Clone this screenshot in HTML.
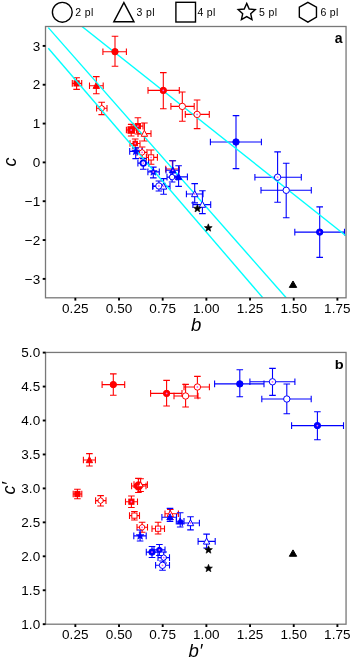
<!DOCTYPE html>
<html><head><meta charset="utf-8"><style>
html,body{margin:0;padding:0;width:350px;height:658px;overflow:hidden;background:#fff;}
svg{will-change:transform;}
</style></head><body>
<svg width="350" height="658" viewBox="0 0 350 658" style="position:absolute;left:0;top:0">
<rect width="350" height="658" fill="#ffffff"/>
<g fill="none" stroke="#000" stroke-width="1.4">
<circle cx="62.3" cy="12.3" r="9.9"/>
<path d="M123.9,2.6 L134,21.8 L113.8,21.8 Z" stroke-linejoin="miter"/>
<rect x="175.9" y="2.3" width="19.6" height="19.7"/>
<path d="M246.70,3.40 L249.17,9.00 L255.26,9.62 L250.69,13.70 L251.99,19.68 L246.70,16.60 L241.41,19.68 L242.71,13.70 L238.14,9.62 L244.23,9.00 Z" stroke-linejoin="miter"/>
<path d="M307.90,2.30 L316.47,7.25 L316.47,17.15 L307.90,22.10 L299.33,17.15 L299.33,7.25 Z"/>
</g>
<g font-family='"Liberation Sans", sans-serif' font-size="10.5" fill="#000" letter-spacing="0.35">
<text x="75.3" y="15.7">2 pl</text>
<text x="136.6" y="15.7">3 pl</text>
<text x="197.4" y="15.7">4 pl</text>
<text x="259.0" y="15.7">5 pl</text>
<text x="320.4" y="15.7">6 pl</text>
</g>
<clipPath id="clipa"><rect x="45.5" y="26.5" width="300.55" height="271.3"/></clipPath>
<g clip-path="url(#clipa)">
<path d="M133,126.1 H143 M133,122.8 V129.4 M143,122.8 V129.4" stroke="#ff0000" stroke-width="1.1" fill="none"/>
<path d="M137.9,117.8 V134 M134.6,117.8 H141.2 M134.6,134 H141.2" stroke="#ff0000" stroke-width="1.1" fill="none"/>
<path d="M126.4,130 H136.5 M126.4,126.7 V133.3 M136.5,126.7 V133.3" stroke="#ff0000" stroke-width="1.1" fill="none"/>
<path d="M131.2,124.4 V136 M127.9,124.4 H134.5 M127.9,136 H134.5" stroke="#ff0000" stroke-width="1.1" fill="none"/>
<path d="M138,133.6 H151 M138,130.3 V136.9 M151,130.3 V136.9" stroke="#ff0000" stroke-width="1.1" fill="none"/>
<path d="M144.4,123 V141 M141.1,123 H147.7 M141.1,141 H147.7" stroke="#ff0000" stroke-width="1.1" fill="none"/>
<path d="M130,143.5 H140 M130,140.2 V146.8 M140,140.2 V146.8" stroke="#ff0000" stroke-width="1.1" fill="none"/>
<path d="M135.2,139 V148 M131.9,139 H138.5 M131.9,148 H138.5" stroke="#ff0000" stroke-width="1.1" fill="none"/>
<path d="M137,152.4 H147 M137,149.1 V155.7 M147,149.1 V155.7" stroke="#ff0000" stroke-width="1.1" fill="none"/>
<path d="M142.1,147 V158 M138.8,147 H145.4 M138.8,158 H145.4" stroke="#ff0000" stroke-width="1.1" fill="none"/>
<path d="M146.4,157.4 H157.4 M146.4,154.1 V160.7 M157.4,154.1 V160.7" stroke="#ff0000" stroke-width="1.1" fill="none"/>
<path d="M151.1,150 V164.3 M147.8,150 H154.4 M147.8,164.3 H154.4" stroke="#ff0000" stroke-width="1.1" fill="none"/>
<path d="M165.7,169 H179.2 M165.7,165.7 V172.3 M179.2,165.7 V172.3" stroke="#ff0000" stroke-width="1.1" fill="none"/>
<path d="M172.4,160.8 V178 M169.1,160.8 H175.7 M169.1,178 H175.7" stroke="#ff0000" stroke-width="1.1" fill="none"/>
<path d="M166,170.3 H179 M166,167 V173.6 M179,167 V173.6" stroke="#0000ff" stroke-width="1.1" fill="none"/>
<path d="M172.8,160.8 V176 M169.5,160.8 H176.1 M169.5,176 H176.1" stroke="#0000ff" stroke-width="1.1" fill="none"/>
<path d="M129.7,151.4 H142.1 M129.7,148.1 V154.7 M142.1,148.1 V154.7" stroke="#0000ff" stroke-width="1.1" fill="none"/>
<path d="M135.7,147.9 V158.6 M132.4,147.9 H139 M132.4,158.6 H139" stroke="#0000ff" stroke-width="1.1" fill="none"/>
<path d="M137.9,163.1 H148.6 M137.9,159.8 V166.4 M148.6,159.8 V166.4" stroke="#0000ff" stroke-width="1.1" fill="none"/>
<path d="M143.3,158.6 V169.3 M140,158.6 H146.6 M140,169.3 H146.6" stroke="#0000ff" stroke-width="1.1" fill="none"/>
<path d="M147.9,171.9 H159.3 M147.9,168.6 V175.2 M159.3,168.6 V175.2" stroke="#0000ff" stroke-width="1.1" fill="none"/>
<path d="M153.3,167.1 V177.9 M150,167.1 H156.6 M150,177.9 H156.6" stroke="#0000ff" stroke-width="1.1" fill="none"/>
<path d="M167,177.1 H177 M167,173.8 V180.4 M177,173.8 V180.4" stroke="#0000ff" stroke-width="1.1" fill="none"/>
<path d="M172.1,172 V182 M168.8,172 H175.4 M168.8,182 H175.4" stroke="#0000ff" stroke-width="1.1" fill="none"/>
<path d="M170.7,176.9 H187.4 M170.7,173.6 V180.2 M187.4,173.6 V180.2" stroke="#0000ff" stroke-width="1.1" fill="none"/>
<path d="M178.6,165.7 V186.4 M175.3,165.7 H181.9 M175.3,186.4 H181.9" stroke="#0000ff" stroke-width="1.1" fill="none"/>
<path d="M153,186 H165 M153,182.7 V189.3 M165,182.7 V189.3" stroke="#0000ff" stroke-width="1.1" fill="none"/>
<path d="M158.9,181 V191 M155.6,181 H162.2 M155.6,191 H162.2" stroke="#0000ff" stroke-width="1.1" fill="none"/>
<path d="M152.6,186.4 H170 M152.6,183.1 V189.7 M170,183.1 V189.7" stroke="#0000ff" stroke-width="1.1" fill="none"/>
<path d="M163.6,178.6 V194.3 M160.3,178.6 H166.9 M160.3,194.3 H166.9" stroke="#0000ff" stroke-width="1.1" fill="none"/>
<path d="M186.4,194 H203 M186.4,190.7 V197.3 M203,190.7 V197.3" stroke="#0000ff" stroke-width="1.1" fill="none"/>
<path d="M194.7,183.6 V202.9 M191.4,183.6 H198 M191.4,202.9 H198" stroke="#0000ff" stroke-width="1.1" fill="none"/>
<path d="M192.9,204.6 H210.7 M192.9,201.3 V207.9 M210.7,201.3 V207.9" stroke="#0000ff" stroke-width="1.1" fill="none"/>
<path d="M202.4,190.7 V213.6 M199.1,190.7 H205.7 M199.1,213.6 H205.7" stroke="#0000ff" stroke-width="1.1" fill="none"/>
<path d="M72.3,83.4 H81.7 M72.3,80.1 V86.7 M81.7,80.1 V86.7" stroke="#ff0000" stroke-width="1.1" fill="none"/>
<path d="M76.6,77.7 V89.4 M73.3,77.7 H79.9 M73.3,89.4 H79.9" stroke="#ff0000" stroke-width="1.1" fill="none"/>
<path d="M89.5,85.7 H103.2 M89.5,82.4 V89 M103.2,82.4 V89" stroke="#ff0000" stroke-width="1.1" fill="none"/>
<path d="M96.3,76.6 V93.8 M93,76.6 H99.6 M93,93.8 H99.6" stroke="#ff0000" stroke-width="1.1" fill="none"/>
<path d="M96.6,108.3 H107 M96.6,105 V111.6 M107,105 V111.6" stroke="#ff0000" stroke-width="1.1" fill="none"/>
<path d="M101.7,102.3 V114.6 M98.4,102.3 H105 M98.4,114.6 H105" stroke="#ff0000" stroke-width="1.1" fill="none"/>
<path d="M102.9,51.7 H126.4 M102.9,48.4 V55 M126.4,48.4 V55" stroke="#ff0000" stroke-width="1.1" fill="none"/>
<path d="M115,36.3 V66.3 M111.7,36.3 H118.3 M111.7,66.3 H118.3" stroke="#ff0000" stroke-width="1.1" fill="none"/>
<path d="M148,90.4 H179.3 M148,87.1 V93.7 M179.3,87.1 V93.7" stroke="#ff0000" stroke-width="1.1" fill="none"/>
<path d="M163.3,72.6 V108.7 M160,72.6 H166.6 M160,108.7 H166.6" stroke="#ff0000" stroke-width="1.1" fill="none"/>
<path d="M170.9,106.4 H194.2 M170.9,103.1 V109.7 M194.2,103.1 V109.7" stroke="#ff0000" stroke-width="1.1" fill="none"/>
<path d="M182.3,92 V121.3 M179,92 H185.6 M179,121.3 H185.6" stroke="#ff0000" stroke-width="1.1" fill="none"/>
<path d="M185.3,114.4 H209.3 M185.3,111.1 V117.7 M209.3,111.1 V117.7" stroke="#ff0000" stroke-width="1.1" fill="none"/>
<path d="M197.1,100 V128.6 M193.8,100 H200.4 M193.8,128.6 H200.4" stroke="#ff0000" stroke-width="1.1" fill="none"/>
<path d="M210.4,142 H261.4 M210.4,138.7 V145.3 M261.4,138.7 V145.3" stroke="#0000ff" stroke-width="1.1" fill="none"/>
<path d="M236,115.6 V168.6 M232.7,115.6 H239.3 M232.7,168.6 H239.3" stroke="#0000ff" stroke-width="1.1" fill="none"/>
<path d="M254.9,177.2 H301.3 M254.9,173.9 V180.5 M301.3,173.9 V180.5" stroke="#0000ff" stroke-width="1.1" fill="none"/>
<path d="M277.6,151.9 V202.2 M274.3,151.9 H280.9 M274.3,202.2 H280.9" stroke="#0000ff" stroke-width="1.1" fill="none"/>
<path d="M261,190.3 H311.3 M261,187 V193.6 M311.3,187 V193.6" stroke="#0000ff" stroke-width="1.1" fill="none"/>
<path d="M286.2,163.3 V217.7 M282.9,163.3 H289.5 M282.9,217.7 H289.5" stroke="#0000ff" stroke-width="1.1" fill="none"/>
<path d="M294.8,232.1 H344.5 M294.8,228.8 V235.4 M344.5,228.8 V235.4" stroke="#0000ff" stroke-width="1.1" fill="none"/>
<path d="M319.7,206.9 V257.4 M316.4,206.9 H323 M316.4,257.4 H323" stroke="#0000ff" stroke-width="1.1" fill="none"/>
<rect x="135.30" y="123.50" width="5.20" height="5.20" fill="#ff0000" stroke="#ff0000" stroke-width="1.0"/>
<circle cx="137.9" cy="126.1" r="0.9" fill="#ee66ee"/>
<rect x="127.95" y="126.75" width="6.50" height="6.50" fill="#ff0000" stroke="#ff0000" stroke-width="1.0"/>
<circle cx="131.2" cy="130.0" r="0.9" fill="#ee66ee"/>
<rect x="132.99" y="141.29" width="4.42" height="4.42" fill="#ff0000" stroke="#ff0000" stroke-width="1.0"/>
<circle cx="135.2" cy="143.5" r="0.9" fill="#ee66ee"/>
<path d="M142.10,149.50 L144.61,150.95 L144.61,153.85 L142.10,155.30 L139.59,153.85 L139.59,150.95 Z" fill="#ffffff" stroke="#ff0000" stroke-width="1.0"/>
<circle cx="142.1" cy="152.4" r="0.9" fill="#ee66ee"/>
<rect x="74.00" y="80.80" width="5.20" height="5.20" fill="#ff0000" stroke="#ff0000" stroke-width="1.0"/>
<path d="M96.30,82.40 L99.50,88.40 L93.10,88.40 Z" fill="#ff0000" stroke="#ff0000" stroke-width="1.0" stroke-linejoin="miter"/>
<path d="M101.70,105.40 L104.21,106.85 L104.21,109.75 L101.70,111.20 L99.19,109.75 L99.19,106.85 Z" fill="#ffffff" stroke="#ff0000" stroke-width="1.0"/>
<line x1="48.3" y1="27.6" x2="286.4" y2="298.0" stroke="#00ffff" stroke-width="1.4"/>
<line x1="48.3" y1="48.2" x2="263.0" y2="298.0" stroke="#00ffff" stroke-width="1.4"/>
<line x1="82.0" y1="26.5" x2="345.6" y2="235.5" stroke="#00ffff" stroke-width="1.4"/>
<path d="M144.40,130.30 L147.60,136.30 L141.20,136.30 Z" fill="#ffffff" stroke="#ff0000" stroke-width="1.0" stroke-linejoin="miter"/>
<rect x="148.50" y="154.80" width="5.20" height="5.20" fill="#ffffff" stroke="#ff0000" stroke-width="1.0"/>
<circle cx="151.1" cy="157.4" r="0.9" fill="#ee66ee"/>
<path d="M172.80,167.00 L176.00,173.00 L169.60,173.00 Z" fill="#0000ff" stroke="#0000ff" stroke-width="1.0" stroke-linejoin="miter"/>
<circle cx="172.8" cy="170.3" r="0.9" fill="#ee66ee"/>
<path d="M135.70,147.30 L136.73,149.98 L139.60,150.13 L137.36,151.94 L138.11,154.72 L135.70,153.15 L133.29,154.72 L134.04,151.94 L131.80,150.13 L134.67,149.98 Z" fill="#0000ff" stroke="#0000ff" stroke-width="0.6"/>
<circle cx="143.3" cy="163.1" r="2.8" fill="#ffffff" stroke="#0000ff" stroke-width="1.8"/>
<circle cx="143.3" cy="163.1" r="0.9" fill="#ee66ee"/>
<path d="M153.30,167.80 L154.33,170.48 L157.20,170.63 L154.96,172.44 L155.71,175.22 L153.30,173.65 L150.89,175.22 L151.64,172.44 L149.40,170.63 L152.27,170.48 Z" fill="#0000ff" stroke="#0000ff" stroke-width="0.6"/>
<circle cx="153.3" cy="171.9" r="0.9" fill="#ee66ee"/>
<path d="M172.10,174.20 L174.61,175.65 L174.61,178.55 L172.10,180.00 L169.59,178.55 L169.59,175.65 Z" fill="#ffffff" stroke="#0000ff" stroke-width="1.0"/>
<path d="M178.60,173.60 L181.80,179.60 L175.40,179.60 Z" fill="#0000ff" stroke="#0000ff" stroke-width="1.0" stroke-linejoin="miter"/>
<circle cx="158.9" cy="186.0" r="3.20" fill="#ffffff" stroke="#0000ff" stroke-width="1.0"/>
<circle cx="158.9" cy="186.0" r="0.9" fill="#ee66ee"/>
<path d="M163.60,183.10 L166.80,189.10 L160.40,189.10 Z" fill="#ffffff" stroke="#0000ff" stroke-width="1.0" stroke-linejoin="miter"/>
<circle cx="163.6" cy="186.4" r="0.9" fill="#ee66ee"/>
<path d="M194.70,190.70 L197.90,196.70 L191.50,196.70 Z" fill="#ffffff" stroke="#0000ff" stroke-width="1.0" stroke-linejoin="miter"/>
<circle cx="194.7" cy="194.0" r="0.9" fill="#ee66ee"/>
<path d="M202.40,201.30 L205.60,207.30 L199.20,207.30 Z" fill="#ffffff" stroke="#0000ff" stroke-width="1.0" stroke-linejoin="miter"/>
<circle cx="115.0" cy="51.7" r="3.20" fill="#ff0000" stroke="#ff0000" stroke-width="1.0"/>
<circle cx="163.3" cy="90.4" r="3.20" fill="#ff0000" stroke="#ff0000" stroke-width="1.0"/>
<circle cx="163.3" cy="90.4" r="0.9" fill="#ee66ee"/>
<circle cx="182.3" cy="106.4" r="3.20" fill="#ffffff" stroke="#ff0000" stroke-width="1.0"/>
<circle cx="197.1" cy="114.4" r="3.20" fill="#ffffff" stroke="#ff0000" stroke-width="1.0"/>
<circle cx="197.1" cy="114.4" r="0.9" fill="#ee66ee"/>
<circle cx="236.0" cy="142.0" r="3.20" fill="#0000ff" stroke="#0000ff" stroke-width="1.0"/>
<circle cx="277.6" cy="177.2" r="3.20" fill="#ffffff" stroke="#0000ff" stroke-width="1.0"/>
<circle cx="277.6" cy="177.2" r="0.9" fill="#ee66ee"/>
<circle cx="286.2" cy="190.3" r="3.20" fill="#ffffff" stroke="#0000ff" stroke-width="1.0"/>
<circle cx="319.7" cy="232.1" r="3.20" fill="#0000ff" stroke="#0000ff" stroke-width="1.0"/>
<circle cx="319.7" cy="232.1" r="0.9" fill="#ee66ee"/>
<path d="M293.00,280.98 L296.70,287.38 L289.30,287.38 Z" fill="#000000" stroke="#000000" stroke-width="1.0" stroke-linejoin="miter"/>
<path d="M208.30,223.80 L209.33,226.48 L212.20,226.63 L209.96,228.44 L210.71,231.22 L208.30,229.65 L205.89,231.22 L206.64,228.44 L204.40,226.63 L207.27,226.48 Z" fill="#000000" stroke="#000000" stroke-width="0.6"/>
<path d="M197.40,204.50 L198.43,207.18 L201.30,207.33 L199.06,209.14 L199.81,211.92 L197.40,210.35 L194.99,211.92 L195.74,209.14 L193.50,207.33 L196.37,207.18 Z" fill="#000000" stroke="#000000" stroke-width="0.6"/>
</g>
<rect x="45.5" y="26.5" width="300.55" height="271.30" fill="none" stroke="#787878" stroke-width="1.3"/>
<g stroke="#000" stroke-width="1.9">
<line x1="75.35" y1="297.8" x2="75.35" y2="300.6"/>
<line x1="119.02" y1="297.8" x2="119.02" y2="300.6"/>
<line x1="162.70" y1="297.8" x2="162.70" y2="300.6"/>
<line x1="206.37" y1="297.8" x2="206.37" y2="300.6"/>
<line x1="250.05" y1="297.8" x2="250.05" y2="300.6"/>
<line x1="293.73" y1="297.8" x2="293.73" y2="300.6"/>
<line x1="337.40" y1="297.8" x2="337.40" y2="300.6"/>
<line x1="42.7" y1="45.90" x2="45.5" y2="45.90"/>
<line x1="42.7" y1="84.73" x2="45.5" y2="84.73"/>
<line x1="42.7" y1="123.56" x2="45.5" y2="123.56"/>
<line x1="42.7" y1="162.39" x2="45.5" y2="162.39"/>
<line x1="42.7" y1="201.22" x2="45.5" y2="201.22"/>
<line x1="42.7" y1="240.05" x2="45.5" y2="240.05"/>
<line x1="42.7" y1="278.88" x2="45.5" y2="278.88"/>
</g>
<g font-family='"Liberation Sans", sans-serif' font-size="13.5" fill="#000">
<text x="75.35" y="312.60" text-anchor="middle" letter-spacing="0.1">0.25</text>
<text x="119.02" y="312.60" text-anchor="middle" letter-spacing="0.1">0.50</text>
<text x="162.70" y="312.60" text-anchor="middle" letter-spacing="0.1">0.75</text>
<text x="206.37" y="312.60" text-anchor="middle" letter-spacing="0.1">1.00</text>
<text x="250.05" y="312.60" text-anchor="middle" letter-spacing="0.1">1.25</text>
<text x="293.73" y="312.60" text-anchor="middle" letter-spacing="0.1">1.50</text>
<text x="337.40" y="312.60" text-anchor="middle" letter-spacing="0.1">1.75</text>
<text x="40.3" y="50.60" text-anchor="end" letter-spacing="0.1">3</text>
<text x="40.3" y="89.43" text-anchor="end" letter-spacing="0.1">2</text>
<text x="40.3" y="128.26" text-anchor="end" letter-spacing="0.1">1</text>
<text x="40.3" y="167.09" text-anchor="end" letter-spacing="0.1">0</text>
<text x="40.3" y="205.92" text-anchor="end" letter-spacing="0.1">−1</text>
<text x="40.3" y="244.75" text-anchor="end" letter-spacing="0.1">−2</text>
<text x="40.3" y="283.58" text-anchor="end" letter-spacing="0.1">−3</text>
</g>
<clipPath id="clipb"><rect x="45.55" y="352.45" width="300.5" height="271.75000000000006"/></clipPath>
<g clip-path="url(#clipb)">
<path d="M131.6,486 H146 M131.6,482.7 V489.3 M146,482.7 V489.3" stroke="#ff0000" stroke-width="1.1" fill="none"/>
<path d="M138.4,478.4 V492.5 M135.1,478.4 H141.7 M135.1,492.5 H141.7" stroke="#ff0000" stroke-width="1.1" fill="none"/>
<path d="M134,484.6 H147.4 M134,481.3 V487.9 M147.4,481.3 V487.9" stroke="#ff0000" stroke-width="1.1" fill="none"/>
<path d="M140.6,478.8 V491.5 M137.3,478.8 H143.9 M137.3,491.5 H143.9" stroke="#ff0000" stroke-width="1.1" fill="none"/>
<path d="M125.5,501.7 H137.5 M125.5,498.4 V505 M137.5,498.4 V505" stroke="#ff0000" stroke-width="1.1" fill="none"/>
<path d="M131.4,496 V507.5 M128.1,496 H134.7 M128.1,507.5 H134.7" stroke="#ff0000" stroke-width="1.1" fill="none"/>
<path d="M129.5,515.6 H139.5 M129.5,512.3 V518.9 M139.5,512.3 V518.9" stroke="#ff0000" stroke-width="1.1" fill="none"/>
<path d="M134.4,511.5 V520 M131.1,511.5 H137.7 M131.1,520 H137.7" stroke="#ff0000" stroke-width="1.1" fill="none"/>
<path d="M137,527.3 H147.5 M137,524 V530.6 M147.5,524 V530.6" stroke="#ff0000" stroke-width="1.1" fill="none"/>
<path d="M142.1,522.3 V532.3 M138.8,522.3 H145.4 M138.8,532.3 H145.4" stroke="#ff0000" stroke-width="1.1" fill="none"/>
<path d="M152,528.7 H164.5 M152,525.4 V532 M164.5,525.4 V532" stroke="#ff0000" stroke-width="1.1" fill="none"/>
<path d="M158.1,522.3 V534 M154.8,522.3 H161.4 M154.8,534 H161.4" stroke="#ff0000" stroke-width="1.1" fill="none"/>
<path d="M165,513.8 H178.4 M165,510.5 V517.1 M178.4,510.5 V517.1" stroke="#ff0000" stroke-width="1.1" fill="none"/>
<path d="M170.3,509.5 V519.5 M167,509.5 H173.6 M167,519.5 H173.6" stroke="#ff0000" stroke-width="1.1" fill="none"/>
<path d="M161.9,517.2 H176.5 M161.9,513.9 V520.5 M176.5,513.9 V520.5" stroke="#0000ff" stroke-width="1.1" fill="none"/>
<path d="M170,508.4 V521.5 M166.7,508.4 H173.3 M166.7,521.5 H173.3" stroke="#0000ff" stroke-width="1.1" fill="none"/>
<path d="M133.8,535.9 H146.2 M133.8,532.6 V539.2 M146.2,532.6 V539.2" stroke="#0000ff" stroke-width="1.1" fill="none"/>
<path d="M140.1,530 V541 M136.8,530 H143.4 M136.8,541 H143.4" stroke="#0000ff" stroke-width="1.1" fill="none"/>
<path d="M146.3,552.1 H158 M146.3,548.8 V555.4 M158,548.8 V555.4" stroke="#0000ff" stroke-width="1.1" fill="none"/>
<path d="M152,546.5 V557.5 M148.7,546.5 H155.3 M148.7,557.5 H155.3" stroke="#0000ff" stroke-width="1.1" fill="none"/>
<path d="M154,549.9 H165 M154,546.6 V553.2 M165,546.6 V553.2" stroke="#0000ff" stroke-width="1.1" fill="none"/>
<path d="M159.4,544.5 V555.5 M156.1,544.5 H162.7 M156.1,555.5 H162.7" stroke="#0000ff" stroke-width="1.1" fill="none"/>
<path d="M158,557.6 H169.5 M158,554.3 V560.9 M169.5,554.3 V560.9" stroke="#0000ff" stroke-width="1.1" fill="none"/>
<path d="M163.7,552 V563 M160.4,552 H167 M160.4,563 H167" stroke="#0000ff" stroke-width="1.1" fill="none"/>
<path d="M155.6,565.3 H169.5 M155.6,562 V568.6 M169.5,562 V568.6" stroke="#0000ff" stroke-width="1.1" fill="none"/>
<path d="M162.5,561 V570.2 M159.2,561 H165.8 M159.2,570.2 H165.8" stroke="#0000ff" stroke-width="1.1" fill="none"/>
<path d="M176.3,521.3 H184 M176.3,518 V524.6 M184,518 V524.6" stroke="#0000ff" stroke-width="1.1" fill="none"/>
<path d="M180.2,512.7 V527 M176.9,512.7 H183.5 M176.9,527 H183.5" stroke="#0000ff" stroke-width="1.1" fill="none"/>
<path d="M182.3,523 H199.4 M182.3,519.7 V526.3 M199.4,519.7 V526.3" stroke="#0000ff" stroke-width="1.1" fill="none"/>
<path d="M190.5,516.7 V529.9 M187.2,516.7 H193.8 M187.2,529.9 H193.8" stroke="#0000ff" stroke-width="1.1" fill="none"/>
<path d="M198.1,541.4 H215.2 M198.1,538.1 V544.7 M215.2,538.1 V544.7" stroke="#0000ff" stroke-width="1.1" fill="none"/>
<path d="M206.6,534.1 V548 M203.3,534.1 H209.9 M203.3,548 H209.9" stroke="#0000ff" stroke-width="1.1" fill="none"/>
<path d="M73.2,494 H81.8 M73.2,490.7 V497.3 M81.8,490.7 V497.3" stroke="#ff0000" stroke-width="1.1" fill="none"/>
<path d="M77.4,489.2 V498.8 M74.1,489.2 H80.7 M74.1,498.8 H80.7" stroke="#ff0000" stroke-width="1.1" fill="none"/>
<path d="M83.4,460 H95.4 M83.4,456.7 V463.3 M95.4,456.7 V463.3" stroke="#ff0000" stroke-width="1.1" fill="none"/>
<path d="M89.4,453.6 V466 M86.1,453.6 H92.7 M86.1,466 H92.7" stroke="#ff0000" stroke-width="1.1" fill="none"/>
<path d="M95.6,500.6 H106 M95.6,497.3 V503.9 M106,497.3 V503.9" stroke="#ff0000" stroke-width="1.1" fill="none"/>
<path d="M100.6,495.6 V506 M97.3,495.6 H103.9 M97.3,506 H103.9" stroke="#ff0000" stroke-width="1.1" fill="none"/>
<path d="M102.1,384.6 H124.7 M102.1,381.3 V387.9 M124.7,381.3 V387.9" stroke="#ff0000" stroke-width="1.1" fill="none"/>
<path d="M113.3,373.9 V395.3 M110,373.9 H116.6 M110,395.3 H116.6" stroke="#ff0000" stroke-width="1.1" fill="none"/>
<path d="M150.6,393.4 H182 M150.6,390.1 V396.7 M182,390.1 V396.7" stroke="#ff0000" stroke-width="1.1" fill="none"/>
<path d="M166.6,380.4 V406 M163.3,380.4 H169.9 M163.3,406 H169.9" stroke="#ff0000" stroke-width="1.1" fill="none"/>
<path d="M174,396 H198 M174,392.7 V399.3 M198,392.7 V399.3" stroke="#ff0000" stroke-width="1.1" fill="none"/>
<path d="M185.6,384.4 V407 M182.3,384.4 H188.9 M182.3,407 H188.9" stroke="#ff0000" stroke-width="1.1" fill="none"/>
<path d="M184,387 H209.4 M184,383.7 V390.3 M209.4,383.7 V390.3" stroke="#ff0000" stroke-width="1.1" fill="none"/>
<path d="M197.4,376.4 V398 M194.1,376.4 H200.7 M194.1,398 H200.7" stroke="#ff0000" stroke-width="1.1" fill="none"/>
<path d="M214.6,383.9 H264 M214.6,380.6 V387.2 M264,380.6 V387.2" stroke="#0000ff" stroke-width="1.1" fill="none"/>
<path d="M239.8,369.7 V396.7 M236.5,369.7 H243.1 M236.5,396.7 H243.1" stroke="#0000ff" stroke-width="1.1" fill="none"/>
<path d="M249.9,381.8 H294.9 M249.9,378.5 V385.1 M294.9,378.5 V385.1" stroke="#0000ff" stroke-width="1.1" fill="none"/>
<path d="M272.5,368.4 V395.4 M269.2,368.4 H275.8 M269.2,395.4 H275.8" stroke="#0000ff" stroke-width="1.1" fill="none"/>
<path d="M261.8,399 H311.2 M261.8,395.7 V402.3 M311.2,395.7 V402.3" stroke="#0000ff" stroke-width="1.1" fill="none"/>
<path d="M286.8,384 V413.8 M283.5,384 H290.1 M283.5,413.8 H290.1" stroke="#0000ff" stroke-width="1.1" fill="none"/>
<path d="M291.6,425.6 H343.5 M291.6,422.3 V428.9 M343.5,422.3 V428.9" stroke="#0000ff" stroke-width="1.1" fill="none"/>
<path d="M317.4,411.8 V439.7 M314.1,411.8 H320.7 M314.1,439.7 H320.7" stroke="#0000ff" stroke-width="1.1" fill="none"/>
<circle cx="138.4" cy="486.0" r="4.16" fill="#ff0000" stroke="#ff0000" stroke-width="1.0"/>
<circle cx="138.4" cy="486.0" r="0.9" fill="#ee66ee"/>
<path d="M140.60,481.96 L143.16,486.76 L138.04,486.76 Z" fill="#ffffff" stroke="#ff0000" stroke-width="1.0" stroke-linejoin="miter"/>
<rect x="128.80" y="499.10" width="5.20" height="5.20" fill="#ff0000" stroke="#ff0000" stroke-width="1.0"/>
<circle cx="131.4" cy="501.7" r="0.9" fill="#ee66ee"/>
<rect x="131.80" y="513.00" width="5.20" height="5.20" fill="#ffffff" stroke="#ff0000" stroke-width="1.0"/>
<path d="M142.10,524.40 L144.61,525.85 L144.61,528.75 L142.10,530.20 L139.59,528.75 L139.59,525.85 Z" fill="#ffffff" stroke="#ff0000" stroke-width="1.0"/>
<circle cx="142.1" cy="527.3" r="0.9" fill="#ee66ee"/>
<rect x="155.50" y="526.10" width="5.20" height="5.20" fill="#ffffff" stroke="#ff0000" stroke-width="1.0"/>
<circle cx="158.1" cy="528.7" r="0.9" fill="#ee66ee"/>
<path d="M170.30,510.50 L173.50,516.50 L167.10,516.50 Z" fill="#ffffff" stroke="#ff0000" stroke-width="1.0" stroke-linejoin="miter"/>
<circle cx="170.3" cy="513.8" r="0.9" fill="#ee66ee"/>
<path d="M170.00,513.90 L173.20,519.90 L166.80,519.90 Z" fill="#0000ff" stroke="#0000ff" stroke-width="1.0" stroke-linejoin="miter"/>
<path d="M140.10,531.80 L141.13,534.48 L144.00,534.63 L141.76,536.44 L142.51,539.22 L140.10,537.65 L137.69,539.22 L138.44,536.44 L136.20,534.63 L139.07,534.48 Z" fill="#0000ff" stroke="#0000ff" stroke-width="0.6"/>
<circle cx="152.0" cy="552.1" r="3.20" fill="#0000ff" stroke="#0000ff" stroke-width="1.0"/>
<circle cx="152.0" cy="552.1" r="0.9" fill="#ee66ee"/>
<path d="M159.40,547.00 L161.91,548.45 L161.91,551.35 L159.40,552.80 L156.89,551.35 L156.89,548.45 Z" fill="#0000ff" stroke="#0000ff" stroke-width="1.0"/>
<circle cx="159.4" cy="549.9" r="0.9" fill="#ee66ee"/>
<path d="M163.70,554.70 L166.21,556.15 L166.21,559.05 L163.70,560.50 L161.19,559.05 L161.19,556.15 Z" fill="#ffffff" stroke="#0000ff" stroke-width="1.0"/>
<circle cx="163.7" cy="557.6" r="0.9" fill="#ee66ee"/>
<circle cx="162.5" cy="565.3" r="3.20" fill="#ffffff" stroke="#0000ff" stroke-width="1.0"/>
<circle cx="162.5" cy="565.3" r="0.9" fill="#ee66ee"/>
<path d="M180.20,518.00 L183.40,524.00 L177.00,524.00 Z" fill="#0000ff" stroke="#0000ff" stroke-width="1.0" stroke-linejoin="miter"/>
<path d="M190.50,519.70 L193.70,525.70 L187.30,525.70 Z" fill="#ffffff" stroke="#0000ff" stroke-width="1.0" stroke-linejoin="miter"/>
<circle cx="190.5" cy="523.0" r="0.9" fill="#ee66ee"/>
<path d="M206.60,538.10 L209.80,544.10 L203.40,544.10 Z" fill="#ffffff" stroke="#0000ff" stroke-width="1.0" stroke-linejoin="miter"/>
<rect x="74.80" y="491.40" width="5.20" height="5.20" fill="#ff0000" stroke="#ff0000" stroke-width="1.0"/>
<path d="M89.40,456.70 L92.60,462.70 L86.20,462.70 Z" fill="#ff0000" stroke="#ff0000" stroke-width="1.0" stroke-linejoin="miter"/>
<path d="M100.60,497.70 L103.11,499.15 L103.11,502.05 L100.60,503.50 L98.09,502.05 L98.09,499.15 Z" fill="#ffffff" stroke="#ff0000" stroke-width="1.0"/>
<circle cx="113.3" cy="384.6" r="3.20" fill="#ff0000" stroke="#ff0000" stroke-width="1.0"/>
<circle cx="166.6" cy="393.4" r="3.20" fill="#ff0000" stroke="#ff0000" stroke-width="1.0"/>
<circle cx="166.6" cy="393.4" r="0.9" fill="#ee66ee"/>
<circle cx="185.6" cy="396.0" r="3.20" fill="#ffffff" stroke="#ff0000" stroke-width="1.0"/>
<circle cx="197.4" cy="387.0" r="3.20" fill="#ffffff" stroke="#ff0000" stroke-width="1.0"/>
<circle cx="197.4" cy="387.0" r="0.9" fill="#ee66ee"/>
<circle cx="239.8" cy="383.9" r="3.20" fill="#0000ff" stroke="#0000ff" stroke-width="1.0"/>
<circle cx="272.5" cy="381.8" r="3.20" fill="#ffffff" stroke="#0000ff" stroke-width="1.0"/>
<circle cx="272.5" cy="381.8" r="0.9" fill="#ee66ee"/>
<circle cx="286.8" cy="399.0" r="3.20" fill="#ffffff" stroke="#0000ff" stroke-width="1.0"/>
<circle cx="317.4" cy="425.6" r="3.20" fill="#0000ff" stroke="#0000ff" stroke-width="1.0"/>
<circle cx="317.4" cy="425.6" r="0.9" fill="#ee66ee"/>
<path d="M293.00,549.88 L296.70,556.28 L289.30,556.28 Z" fill="#000000" stroke="#000000" stroke-width="1.0" stroke-linejoin="miter"/>
<path d="M208.50,564.30 L209.53,566.98 L212.40,567.13 L210.16,568.94 L210.91,571.72 L208.50,570.15 L206.09,571.72 L206.84,568.94 L204.60,567.13 L207.47,566.98 Z" fill="#000000" stroke="#000000" stroke-width="0.6"/>
<path d="M208.50,545.80 L209.53,548.48 L212.40,548.63 L210.16,550.44 L210.91,553.22 L208.50,551.65 L206.09,553.22 L206.84,550.44 L204.60,548.63 L207.47,548.48 Z" fill="#000000" stroke="#000000" stroke-width="0.6"/>
</g>
<rect x="45.55" y="352.45" width="300.50" height="271.75" fill="none" stroke="#787878" stroke-width="1.3"/>
<g stroke="#000" stroke-width="1.9">
<line x1="75.35" y1="624.2" x2="75.35" y2="627.0"/>
<line x1="119.02" y1="624.2" x2="119.02" y2="627.0"/>
<line x1="162.70" y1="624.2" x2="162.70" y2="627.0"/>
<line x1="206.37" y1="624.2" x2="206.37" y2="627.0"/>
<line x1="250.05" y1="624.2" x2="250.05" y2="627.0"/>
<line x1="293.73" y1="624.2" x2="293.73" y2="627.0"/>
<line x1="337.40" y1="624.2" x2="337.40" y2="627.0"/>
<line x1="42.75" y1="352.60" x2="45.55" y2="352.60"/>
<line x1="42.75" y1="386.55" x2="45.55" y2="386.55"/>
<line x1="42.75" y1="420.50" x2="45.55" y2="420.50"/>
<line x1="42.75" y1="454.45" x2="45.55" y2="454.45"/>
<line x1="42.75" y1="488.40" x2="45.55" y2="488.40"/>
<line x1="42.75" y1="522.35" x2="45.55" y2="522.35"/>
<line x1="42.75" y1="556.30" x2="45.55" y2="556.30"/>
<line x1="42.75" y1="590.25" x2="45.55" y2="590.25"/>
<line x1="42.75" y1="624.20" x2="45.55" y2="624.20"/>
</g>
<g font-family='"Liberation Sans", sans-serif' font-size="13.5" fill="#000">
<text x="75.35" y="639.00" text-anchor="middle" letter-spacing="0.1">0.25</text>
<text x="119.02" y="639.00" text-anchor="middle" letter-spacing="0.1">0.50</text>
<text x="162.70" y="639.00" text-anchor="middle" letter-spacing="0.1">0.75</text>
<text x="206.37" y="639.00" text-anchor="middle" letter-spacing="0.1">1.00</text>
<text x="250.05" y="639.00" text-anchor="middle" letter-spacing="0.1">1.25</text>
<text x="293.73" y="639.00" text-anchor="middle" letter-spacing="0.1">1.50</text>
<text x="337.40" y="639.00" text-anchor="middle" letter-spacing="0.1">1.75</text>
<text x="40.3" y="357.30" text-anchor="end" letter-spacing="0.1">5.0</text>
<text x="40.3" y="391.25" text-anchor="end" letter-spacing="0.1">4.5</text>
<text x="40.3" y="425.20" text-anchor="end" letter-spacing="0.1">4.0</text>
<text x="40.3" y="459.15" text-anchor="end" letter-spacing="0.1">3.5</text>
<text x="40.3" y="493.10" text-anchor="end" letter-spacing="0.1">3.0</text>
<text x="40.3" y="527.05" text-anchor="end" letter-spacing="0.1">2.5</text>
<text x="40.3" y="561.00" text-anchor="end" letter-spacing="0.1">2.0</text>
<text x="40.3" y="594.95" text-anchor="end" letter-spacing="0.1">1.5</text>
<text x="40.3" y="628.90" text-anchor="end" letter-spacing="0.1">1.0</text>
</g>
<text x="334.8" y="42.8" font-family='"Liberation Sans", sans-serif' font-size="14" font-weight="bold">a</text>
<text transform="translate(334.8,368.9) scale(1.04,0.88)" font-family='"Liberation Sans", sans-serif' font-size="14" font-weight="bold">b</text>
<text x="191.0" y="331.2" font-family='"Liberation Sans", sans-serif' font-size="18.6" font-style="italic">b</text>
<text x="188.6" y="656.8" font-family='"Liberation Sans", sans-serif' font-size="18.6" font-style="italic">b′</text>
<text transform="translate(16.4,166.5) rotate(-90)" font-family='"Liberation Sans", sans-serif' font-size="18" font-style="italic">c</text>
<text transform="translate(14.8,494.5) rotate(-90)" font-family='"Liberation Sans", sans-serif' font-size="18" font-style="italic">c′</text>
</svg>
</body></html>
